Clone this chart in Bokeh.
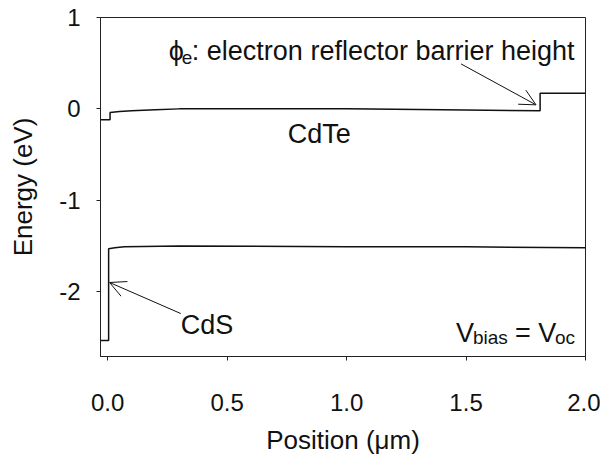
from bokeh.plotting import figure
from bokeh.models import Range1d, FixedTicker, Arrow, OpenHead, ColumnDataSource
from bokeh.embed import file_html
from bokeh.resources import INLINE
from bokeh.core.properties import value

# ---- data ----
x_ec = [-0.03, 0.01, 0.01, 0.05, 0.1, 0.2, 0.3, 0.6, 1.0, 1.4, 1.81, 1.81, 2.0]
e_c = [-0.12, -0.12, -0.04, -0.03, -0.02, -0.01, 0.0, 0.0, 0.0, -0.01, -0.02, 0.17, 0.17]
x_ev = [-0.03, 0.004, 0.004, 0.03, 0.07, 0.3, 1.0, 1.5, 2.0]
e_v = [-2.535, -2.535, -1.53, -1.52, -1.51, -1.50, -1.51, -1.51, -1.52]

x_ticks = [0.0, 0.5, 1.0, 1.5, 2.0]
x_tick_labels = ["0.0", "0.5", "1.0", "1.5", "2.0"]
y_ticks = [-2, -1, 0, 1]
y_tick_labels = ["-2", "-1", "0", "1"]

# annotation texts (anchor in data units)
ann_text = ["ϕ", "e", ": electron reflector barrier height",
            "CdTe", "CdS",
            "V", "bias", " = V", "oc"]
ann_x = [0.256, 0.256, 0.256, 0.754, 0.306, 1.458, 1.458, 1.458, 1.458]
ann_y = [0.63, 0.63, 0.63, -0.28, -2.36, -2.45, -2.45, -2.45, -2.45]

# arrows: tail -> head
arrow_x0 = [1.479, 0.306]
arrow_y0 = [0.492, -2.24]
arrow_x1 = [1.793, 0.008]
arrow_y1 = [0.044, -1.90]

FONT = "Liberation Sans"

p = figure(width=600, height=458, output_backend="svg", toolbar_location=None,
           x_range=Range1d(-0.03, 2.0), y_range=Range1d(-2.71, 1.0),
           min_border_left=100, min_border_right=15, min_border_top=17,
           min_border_bottom=102)
p.background_fill_color = "white"
p.border_fill_color = "white"
p.outline_line_color = "#222222"
p.outline_line_width = 1
p.grid.visible = False

p.line(x_ec, e_c, line_color="#111111", line_width=1.5)
p.line(x_ev, e_v, line_color="#111111", line_width=1.5)

# styles for annotation pieces (offsets in screen px)
sizes = ["27px", "19px", "27px", "27px", "27px", "27px", "19px", "27px", "19px"]
xoff = [0, 13, 23, 0, 0, 0, 17, 59, 99]
yoff = [0, 6, 0, 0, 0, 0, 5, 0, 5]
src = ColumnDataSource(dict(x=ann_x, y=ann_y, t=ann_text, s=sizes, xo=xoff, yo=yoff))
p.text(x="x", y="y", text="t", text_font_size="s", x_offset="xo", y_offset="yo",
       source=src, text_font=value(FONT), text_color="#111111",
       text_align="left", text_baseline="alphabetic")

for x0, y0, x1, y1 in zip(arrow_x0, arrow_y0, arrow_x1, arrow_y1):
    p.add_layout(Arrow(x_start=x0, y_start=y0, x_end=x1, y_end=y1,
                       line_color="#111111", line_width=1,
                       end=OpenHead(size=16, line_color="#111111", line_width=1)))

for ax in (p.xaxis[0], p.yaxis[0]):
    ax.axis_line_color = "#222222"
    ax.major_tick_line_color = "#222222"
    ax.major_tick_out = 4
    ax.major_tick_in = 0
    ax.minor_tick_line_color = None
    ax.major_label_text_font = FONT
    ax.major_label_text_font_size = "24px"
    ax.major_label_text_color = "#111111"
    ax.axis_label_text_font = FONT
    ax.axis_label_text_font_size = "26px"
    ax.axis_label_text_font_style = "normal"
    ax.axis_label_text_color = "#111111"

p.xaxis.ticker = FixedTicker(ticks=x_ticks)
p.xaxis.major_label_overrides = dict(zip(x_ticks, x_tick_labels))
p.yaxis.ticker = FixedTicker(ticks=y_ticks)
p.yaxis.major_label_overrides = dict(zip(y_ticks, y_tick_labels))
p.xaxis.axis_label = "Position (μm)"
p.yaxis.axis_label = "Energy (eV)"
p.xaxis.major_label_standoff = 33
p.xaxis.axis_label_standoff = 11
p.yaxis.major_label_standoff = 16
p.yaxis.axis_label_standoff = 18

open("out.html", "w").write(file_html(p, INLINE))
